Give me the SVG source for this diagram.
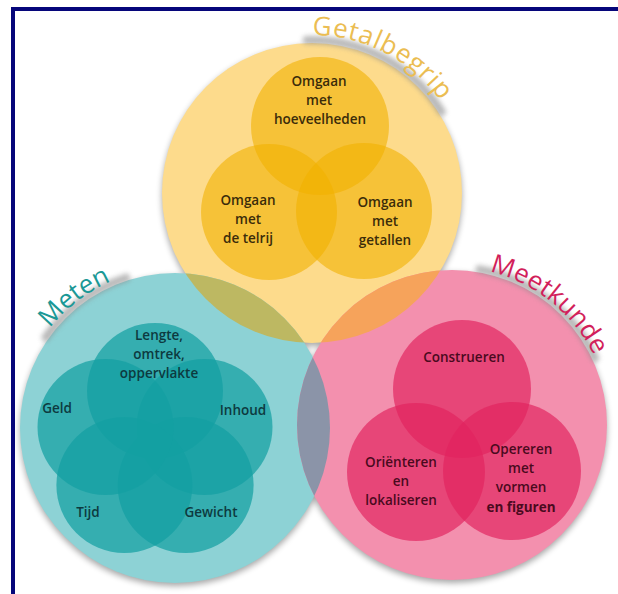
<svg xmlns="http://www.w3.org/2000/svg" width="618" height="594" viewBox="0 0 618 594">
  <style>
    .lbl { font-family: "Open Sans", "Noto Sans", "DejaVu Sans", sans-serif; font-size: 13.5px; font-weight: 600; text-anchor: middle; }
    .ttl { font-family: "Open Sans", "Noto Sans", "DejaVu Sans", sans-serif; font-size: 26px; font-weight: 400; }
    .y-txt { fill: #3b2c0a; }
    .t-txt { fill: #0d3a3f; }
    .p-txt { fill: #4a0a1e; }
    .y-in { fill: #f2b000; fill-opacity: 0.6; }
    .t-in { fill: #13a0a2; fill-opacity: 0.72; }
    .p-in { fill: #e2245e; fill-opacity: 0.68; }
    .arc-shadow { fill: none; stroke: #8a8a8a; stroke-width: 8; stroke-linecap: round; opacity: 0.6; }
  </style>
  <defs>
    <filter id="soft" x="-20%" y="-20%" width="140%" height="140%">
      <feGaussianBlur stdDeviation="3"/>
    </filter>
    <filter id="band" x="-20%" y="-20%" width="140%" height="140%">
      <feGaussianBlur stdDeviation="2.5"/>
    </filter>
    <clipPath id="clipYellow"><circle cx="312" cy="193" r="150"/></clipPath>
    <clipPath id="clipPink"><circle cx="452" cy="425" r="155"/></clipPath>
    <!-- baselines for the curved titles -->
    <path id="arcGetal" d="M298.2,35.6 A158,158 0 0 1 460.5,139"/>
    <path id="arcMeten" d="M36.4,348 A160,160 0 0 1 147.2,270.4"/>
    <path id="arcMeet" d="M465.8,267.6 A158,158 0 0 1 604.6,384.1"/>
  </defs>

  <rect width="618" height="594" fill="#ffffff"/>
  <!-- navy frame, running off the right and bottom edges -->
  <rect x="13" y="9" width="700" height="700" fill="none" stroke="#06067a" stroke-width="4"/>

  <!-- soft shadow under the three domains -->
  <g filter="url(#soft)" opacity="0.35" transform="translate(0,3)">
    <circle cx="312" cy="193" r="150" fill="#000"/>
    <circle cx="175" cy="428" r="155" fill="#000"/>
    <circle cx="452" cy="425" r="155" fill="#000"/>
  </g>

  <!-- domain discs -->
  <circle cx="312" cy="193" r="150" fill="#fddb8c"/>
  <circle cx="175" cy="428" r="155" fill="#8dd2d5"/>
  <circle cx="452" cy="425" r="155" fill="#f390ae"/>

  <!-- overlaps between the domains -->
  <circle cx="175" cy="428" r="155" fill="#bdb862" clip-path="url(#clipYellow)"/>
  <circle cx="452" cy="425" r="155" fill="#f6a35b" clip-path="url(#clipYellow)"/>
  <circle cx="175" cy="428" r="155" fill="#8b94a8" clip-path="url(#clipPink)"/>

  <!-- Getalbegrip -->
  <g id="getalbegrip">
    <path class="arc-shadow" filter="url(#band)" d="M306.7,40.1 A153,153 0 0 1 441.8,111.9"/>
    <text class="ttl" fill="#ebbd52" letter-spacing="0.8"><textPath href="#arcGetal" startOffset="14">Getalbegrip</textPath></text>
    <circle class="y-in" cx="320" cy="126" r="69"/>
    <circle class="y-in" cx="269" cy="212" r="68"/>
    <circle class="y-in" cx="364" cy="211" r="68"/>
    <text class="lbl y-txt" x="319" y="86">Omgaan</text>
    <text class="lbl y-txt" x="319" y="105">met</text>
    <text class="lbl y-txt" x="320" y="124">hoeveelheden</text>
    <text class="lbl y-txt" x="248" y="205">Omgaan</text>
    <text class="lbl y-txt" x="248" y="224">met</text>
    <text class="lbl y-txt" x="248" y="243">de telrij</text>
    <text class="lbl y-txt" x="385" y="207">Omgaan</text>
    <text class="lbl y-txt" x="385" y="226">met</text>
    <text class="lbl y-txt" x="385" y="245">getallen</text>
  </g>

  <!-- Meten -->
  <g id="meten">
    <path class="arc-shadow" filter="url(#band)" d="M45.6,337.4 A158,158 0 0 1 126.2,277.7"/>
    <text class="ttl" fill="#1b9896"><textPath href="#arcMeten" startOffset="24">Meten</textPath></text>
    <circle class="t-in" cx="155" cy="391" r="68"/>
    <circle class="t-in" cx="204.5" cy="427" r="68"/>
    <circle class="t-in" cx="185.6" cy="485" r="68"/>
    <circle class="t-in" cx="124.4" cy="485" r="68"/>
    <circle class="t-in" cx="105.5" cy="427" r="68"/>
    <text class="lbl t-txt" x="159" y="340">Lengte,</text>
    <text class="lbl t-txt" x="159" y="359">omtrek,</text>
    <text class="lbl t-txt" x="159" y="378">oppervlakte</text>
    <text class="lbl t-txt" x="57" y="413">Geld</text>
    <text class="lbl t-txt" x="243" y="415">Inhoud</text>
    <text class="lbl t-txt" x="88" y="517">Tijd</text>
    <text class="lbl t-txt" x="211" y="517">Gewicht</text>
  </g>

  <!-- Meetkunde -->
  <g id="meetkunde">
    <path class="arc-shadow" filter="url(#band)" d="M479.4,269.4 A158,158 0 0 1 595.2,358.2"/>
    <text class="ttl" fill="#d21f5b"><textPath href="#arcMeet" startOffset="24">Meetkunde</textPath></text>
    <circle class="p-in" cx="462" cy="389" r="69"/>
    <circle class="p-in" cx="416" cy="472" r="69"/>
    <circle class="p-in" cx="512" cy="471" r="69"/>
    <text class="lbl p-txt" x="464" y="362">Construeren</text>
    <text class="lbl p-txt" x="401" y="467">Oriënteren</text>
    <text class="lbl p-txt" x="401" y="486">en</text>
    <text class="lbl p-txt" x="401" y="505">lokaliseren</text>
    <text class="lbl p-txt" x="521" y="454">Opereren</text>
    <text class="lbl p-txt" x="521" y="473">met</text>
    <text class="lbl p-txt" x="521" y="492">vormen</text>
    <text class="lbl p-txt" x="521" y="512" style="font-weight:700">en figuren</text>
  </g>
</svg>
